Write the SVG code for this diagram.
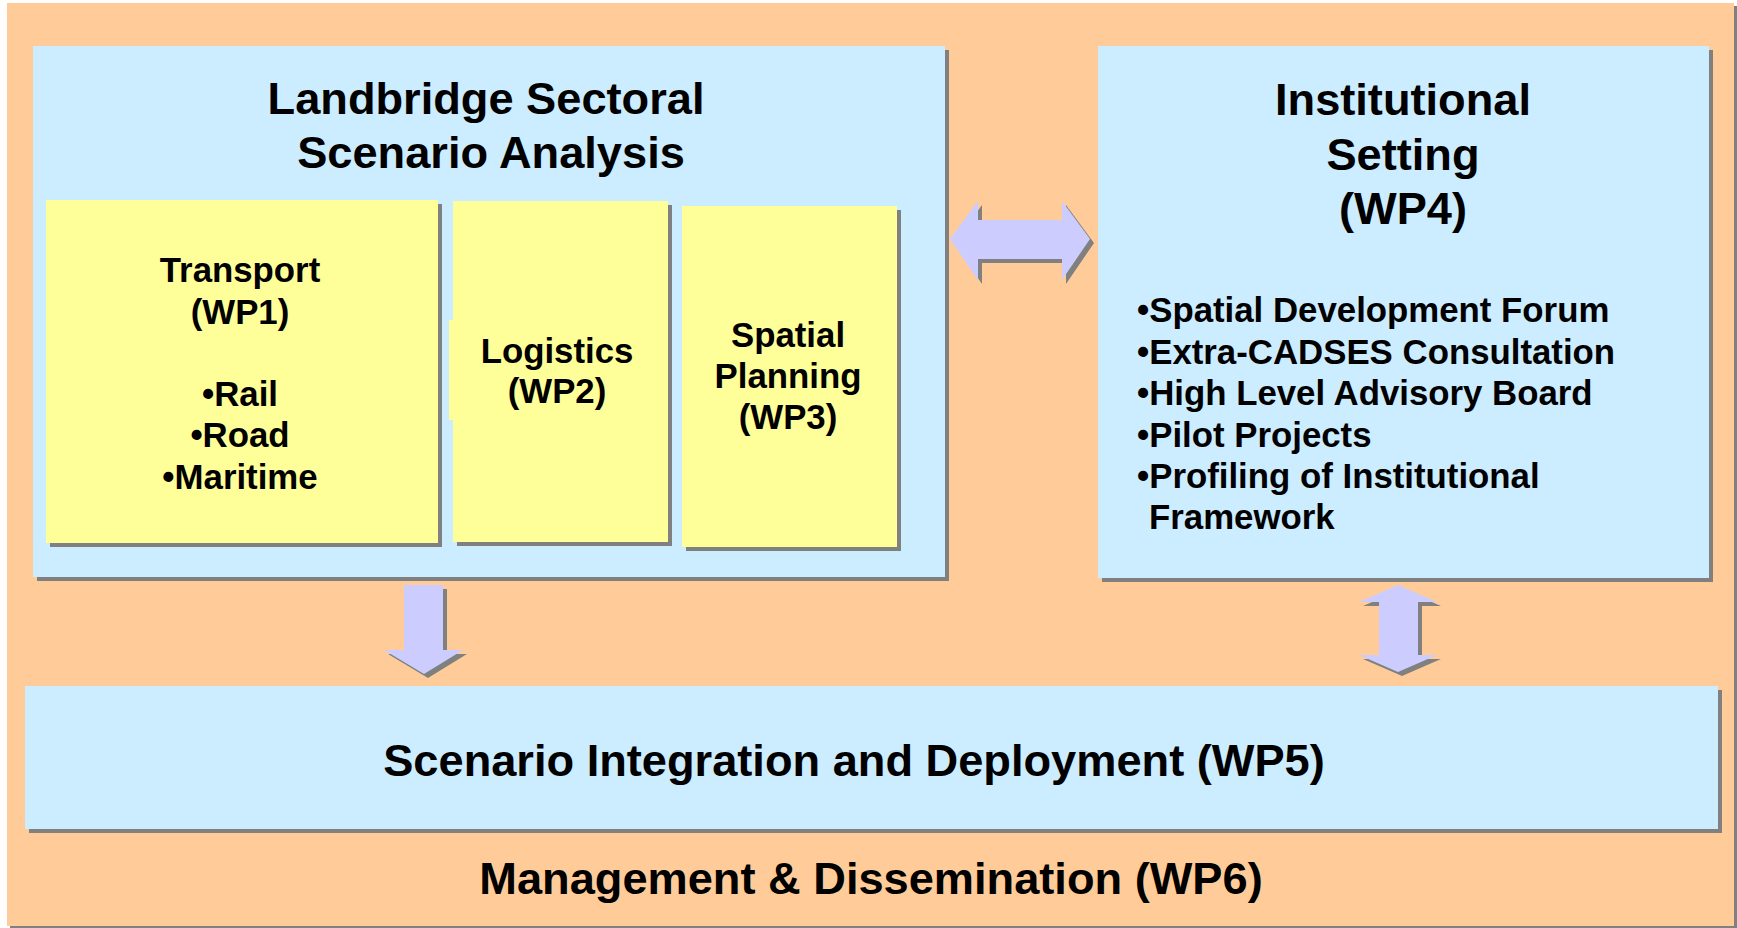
<svg xmlns="http://www.w3.org/2000/svg" width="1737" height="928" viewBox="0 0 1737 928">
<style>
.sh{fill:#808080}
.bg{fill:#FFCC99}
.bl{fill:#CCECFF}
.ye{fill:#FFFF99}
.ar{fill:#CCCCFF}
text{font-family:"Liberation Sans",Arial,sans-serif;font-weight:bold;fill:#000;text-anchor:middle}
.t1{font-size:45.2px}
.t2{font-size:34.8px}
.lt{text-anchor:start}
</style>
<rect width="1737" height="928" fill="#FFFFFF"/>
<g id="background">
<rect class="sh" x="10" y="6" width="1727" height="923"/>
<rect class="bg" x="7" y="3" width="1727" height="923"/>
<text class="t1" x="871" y="894">Management &amp; Dissemination (WP6)</text>
</g>
<g id="landbridge">
<rect class="sh" x="37" y="50" width="912" height="531"/>
<rect class="bl" x="33" y="46" width="912" height="531"/>
<text class="t1" x="486" y="114">Landbridge Sectoral</text>
<text class="t1" x="491" y="168">Scenario Analysis</text>
</g>
<g id="transport">
<rect class="sh" x="50" y="204" width="392" height="343"/>
<rect class="ye" x="46" y="200" width="392" height="343"/>
<text class="t2" x="240" y="282">Transport</text>
<text class="t2" x="240" y="324">(WP1)</text>
<text class="t2" x="240" y="406">•Rail</text>
<text class="t2" x="240" y="447">•Road</text>
<text class="t2" x="240" y="489">•Maritime</text>
</g>
<g id="logistics">
<rect class="sh" x="457" y="205" width="215" height="341"/>
<rect class="ye" x="453" y="201" width="215" height="341"/>
<rect class="ye" x="449" y="320" width="5" height="100"/>
<text class="t2" x="557" y="363">Logistics</text>
<text class="t2" x="557" y="403">(WP2)</text>
</g>
<g id="spatial">
<rect class="sh" x="686" y="210" width="215" height="341"/>
<rect class="ye" x="682" y="206" width="215" height="341"/>
<text class="t2" x="788" y="347">Spatial</text>
<text class="t2" x="788" y="388">Planning</text>
<text class="t2" x="788" y="429">(WP3)</text>
</g>
<g id="institutional">
<rect class="sh" x="1102" y="50" width="611" height="532"/>
<rect class="bl" x="1098" y="46" width="611" height="532"/>
<text class="t1" x="1403" y="115">Institutional</text>
<text class="t1" x="1403" y="170">Setting</text>
<text class="t1" x="1403" y="224">(WP4)</text>
<text class="t2 lt" x="1137" y="322">•Spatial Development Forum</text>
<text class="t2 lt" x="1137" y="364">•Extra-CADSES Consultation</text>
<text class="t2 lt" x="1137" y="405">•High Level Advisory Board</text>
<text class="t2 lt" x="1137" y="447">•Pilot Projects</text>
<text class="t2 lt" x="1137" y="488">•Profiling of Institutional</text>
<text class="t2 lt" x="1149" y="529">Framework</text>
</g>
<g id="integration">
<rect class="sh" x="29" y="690" width="1693" height="143"/>
<rect class="bl" x="25" y="686" width="1693" height="143"/>
<text class="t1" x="854" y="776">Scenario Integration and Deployment (WP5)</text>
</g>
<g id="connectors">
<g transform="translate(4,4)">
<polygon class="sh" points="950,239 978,201 978,220 1062,220 1062,201 1090,239 1062,280 1062,259 978,259 978,280"/>
<polygon class="sh" points="404,585 443,585 443,650 463,650 424,674 384,650 404,650"/>
<polygon class="sh" points="1398,585 1437,602 1418,602 1418,655 1437,655 1398,672 1359,655 1379,655 1379,602 1359,602"/>
</g>
<polygon class="ar" points="950,239 978,201 978,220 1062,220 1062,201 1090,239 1062,280 1062,259 978,259 978,280"/>
<polygon class="ar" points="404,585 443,585 443,650 463,650 424,674 384,650 404,650"/>
<polygon class="ar" points="1398,585 1437,602 1418,602 1418,655 1437,655 1398,672 1359,655 1379,655 1379,602 1359,602"/>
</g>
</svg>
